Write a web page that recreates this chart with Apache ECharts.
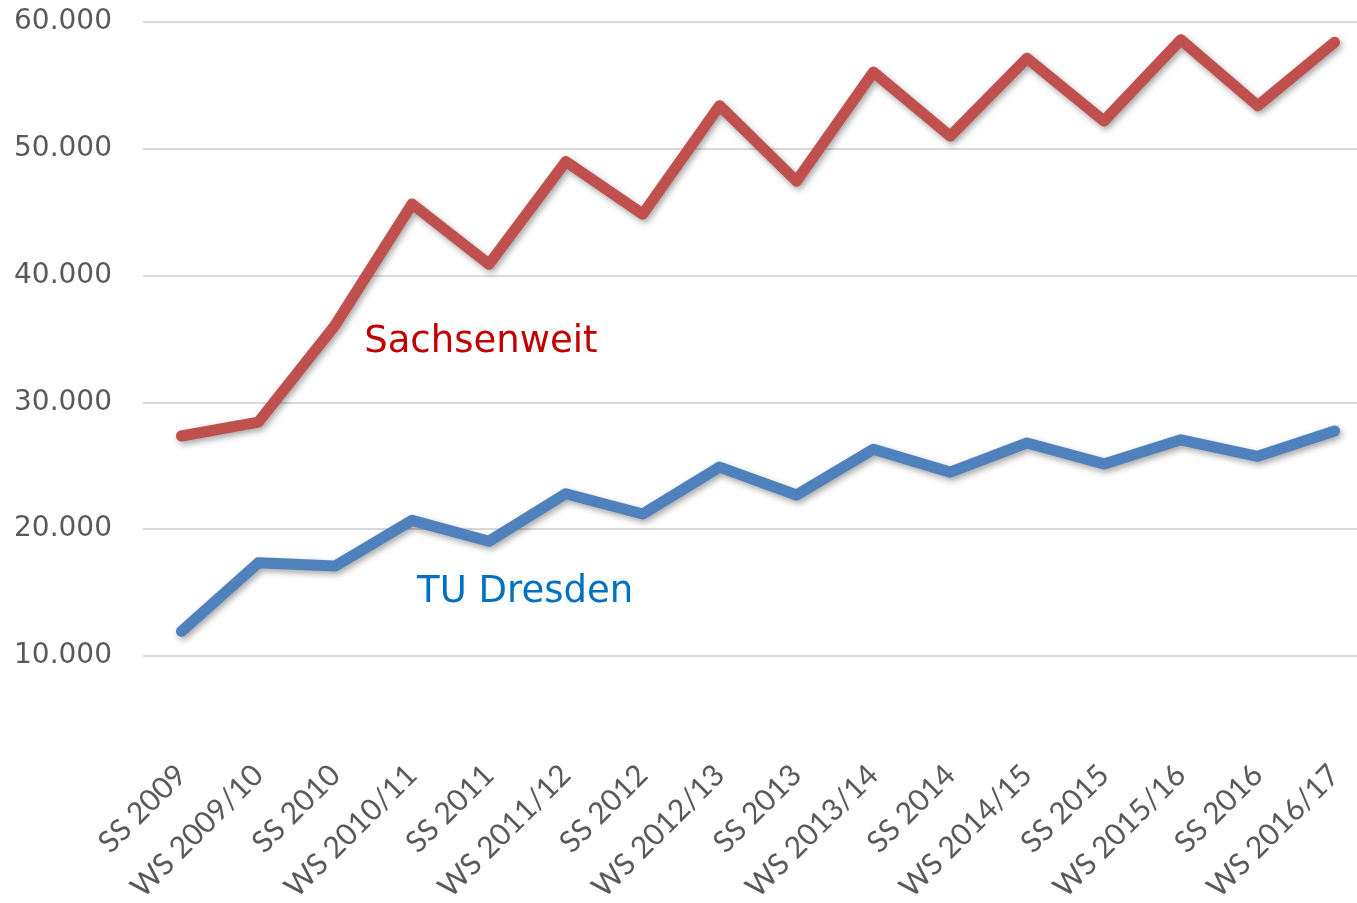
<!DOCTYPE html>
<html>
<head>
<meta charset="utf-8">
<script src="https://cdn.jsdelivr.net/npm/echarts@6/dist/echarts.min.js"></script>
<style>
  html, body { margin: 0; padding: 0; background: #fff; }
  #chart { width: 1357px; height: 903px; }
</style>
</head>
<body>
<div id="chart"></div>
<script>
const semesters = [
  'SS 2009', 'WS 2009/10', 'SS 2010', 'WS 2010/11', 'SS 2011', 'WS 2011/12',
  'SS 2012', 'WS 2012/13', 'SS 2013', 'WS 2013/14', 'SS 2014', 'WS 2014/15',
  'SS 2015', 'WS 2015/16', 'SS 2016', 'WS 2016/17'
]
const sachsenweit = [
  27350, 28450, 36100, 45650, 40900, 49000, 44850, 53400,
  47450, 56050, 51000, 57150, 52200, 58600, 53400, 58400
]
const tuDresden = [
  11950, 17350, 17100, 20700, 19050, 22800, 21200, 24900,
  22700, 26300, 24500, 26800, 25150, 27050, 25750, 27750
]
const yTicks = [10000, 20000, 30000, 40000, 50000, 60000]

const chart = echarts.init(document.getElementById('chart'))

function lineSeries(name, data, color, labelColor, labelCoord, offsetX) {
  return {
    name: name,
    type: 'line',
    data: data,
    symbol: 'none',
    smooth: false,
    lineStyle: {
      color: color,
      width: 11,
      cap: 'round',
      join: 'round',
      shadowColor: 'rgba(0,0,0,0.35)',
      shadowBlur: 6,
      shadowOffsetX: 2,
      shadowOffsetY: 3,
    },
    markPoint: {
      symbol: 'circle',
      symbolSize: 0,
      silent: true,
      label: {
        show: true,
        position: 'right',
        distance: 0,
        offset: [offsetX, 0],
        formatter: name,
        color: labelColor,
        fontFamily: 'DejaVu Sans',
        fontSize: 37,
      },
      data: [{ coord: labelCoord }],
    },
  }
}

const option = {
  animation: false,
  backgroundColor: '#fff',
  grid: {
    left: 143,
    right: -16,
    top: 22,
    bottom: 247,
    containLabel: false,
    outerBoundsMode: 'none',
  },
  xAxis: {
    type: 'category',
    data: semesters,
    boundaryGap: true,
    axisLine: { show: false },
    axisTick: { show: false },
    axisLabel: {
      rotate: 45,
      interval: 0,
      margin: 114,
      color: '#595959',
      fontFamily: 'Lato',
      fontSize: 30,
    },
  },
  yAxis: {
    type: 'value',
    min: yTicks[0],
    max: yTicks[yTicks.length - 1],
    interval: 10000,
    axisLine: { show: false },
    axisTick: { show: false },
    splitLine: { lineStyle: { color: '#d9d9d9', width: 2 } },
    axisLabel: {
      margin: 31,
      color: '#595959',
      fontFamily: 'DejaVu Sans',
      fontSize: 28,
      formatter: (v) => v.toLocaleString('de-DE'),
    },
  },
  series: [
    lineSeries('Sachsenweit', sachsenweit, '#c0504d', '#c00000', ['SS 2010', 34760], 29),
    lineSeries('TU Dresden', tuDresden, '#4f81bd', '#0070c0', ['WS 2010/11', 15050], 5),
  ],
}

chart.setOption(option)
</script>
</body>
</html>
